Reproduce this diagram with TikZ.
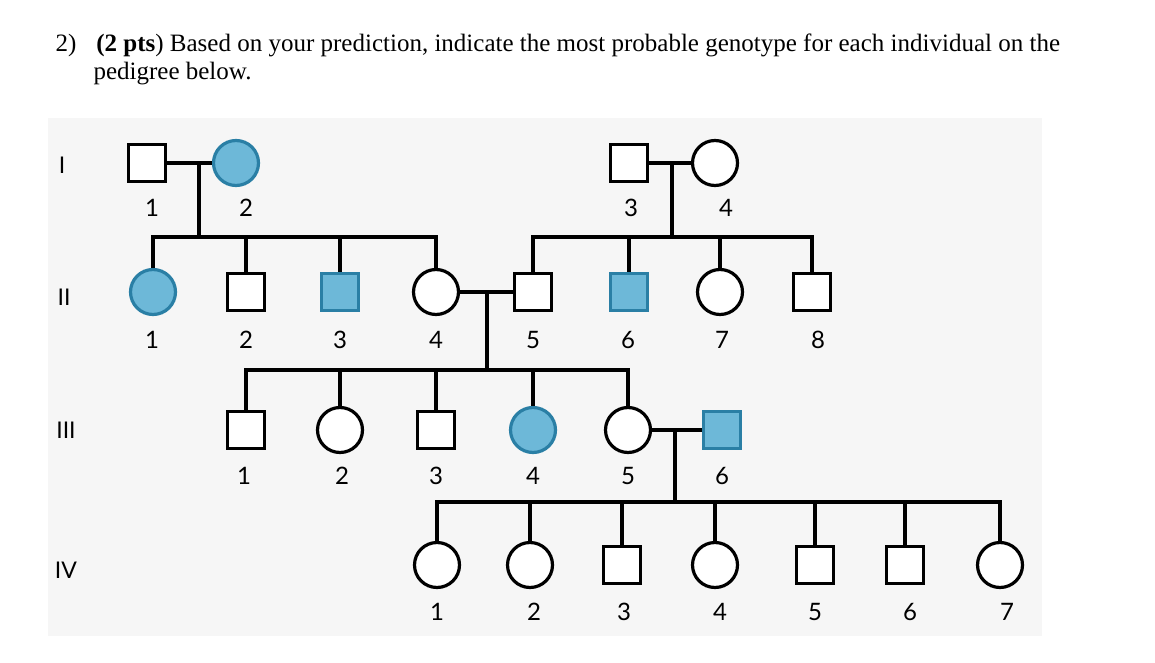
\documentclass[tikz,border=0pt]{standalone}
\usepackage{fontspec}
\setmainfont{Liberation Serif}
\newfontfamily\lab{Lato}
\begin{document}
\begin{tikzpicture}[x=1pt,y=-1pt,
  m/.style={draw=black,line width=3.2pt,minimum size=37pt,inner sep=0pt,fill=white},
  f/.style={circle,draw=black,line width=3.2pt,minimum size=45pt,inner sep=0pt,fill=white},
  aff/.style={fill=affblue,draw=affedge},
  ln/.style={line width=3.6pt},
  lb/.style={font=\lab\fontsize{24}{26}\selectfont},
  gen/.style={font=\lab\fontsize{23}{26}\selectfont}]
\definecolor{affblue}{HTML}{6DB8D8}
\definecolor{affedge}{HTML}{2A7FA5}
\useasboundingbox (0,0) rectangle (1155,663);
\fill[gray!7] (48,118) rectangle (1042,636);
\node[anchor=base west,font=\fontsize{25}{29}\selectfont] (t1) at (52,52) {2)\hspace{0.8em}\textbf{(2 pts}) Based on your prediction, indicate the most probable genotype for each individual on the};
\node[anchor=base west,font=\fontsize{25}{29}\selectfont] (t2) at (90,80) {pedigree below.};
% generation labels
\node[gen] (gI) at (62,165) {I};
\node[gen] (gII) at (64,297) {II};
\node[gen] (gIII) at (66,430) {III};
\node[gen] (gIV) at (66,570) {IV};
% Gen I
\node[m] (a1) at (147,163) {};
\node[f,aff] (a2) at (236,163) {};
\node[m] (a3) at (629,163) {};
\node[f] (a4) at (715,163) {};
\draw[ln] (a1) -- (a2); \draw[ln] (a3) -- (a4);
\coordinate (d1) at (199,163); \coordinate (d2) at (672,163);
\coordinate (s1) at (199,237); \coordinate (s2) at (672,237);
\draw[ln] (d1) -- (s1); \draw[ln] (d2) -- (s2);
% Gen II
\node[f,aff] (b1) at (153,292) {};
\node[m] (b2) at (246,292) {};
\node[m,aff] (b3) at (340,292) {};
\node[f] (b4) at (436,292) {};
\node[m] (b5) at (533,292) {};
\node[m,aff] (b6) at (629,292) {};
\node[f] (b7) at (720,292) {};
\node[m] (b8) at (812,292) {};
\draw[ln] (153,237) -- (438,237);
\draw[ln] (533,237) -- (814,237);
\foreach \n/\x in {b1/153,b2/246,b3/340,b4/436,b5/533,b6/629,b7/720,b8/812}
  \draw[ln] (\x,235.2) -- (\n.north);
\draw[ln] (b4) -- (b5);
\coordinate (d3) at (487,292); \coordinate (s3) at (487,370);
\draw[ln] (d3) -- (s3);
% Gen III
\node[m] (c1) at (246,430) {};
\node[f] (c2) at (340,430) {};
\node[m] (c3) at (436,430) {};
\node[f,aff] (c4) at (533,430) {};
\node[f] (c5) at (628,430) {};
\node[m,aff] (c6) at (722,430) {};
\draw[ln] (246,370) -- (628,370);
\foreach \n/\x in {c1/246,c2/340,c3/436,c4/533,c5/628}
  \draw[ln] (\x,368.2) -- (\n.north);
\draw[ln] (c5) -- (c6);
\coordinate (d4) at (675,430); \coordinate (s4) at (675,502);
\draw[ln] (d4) -- (s4);
% Gen IV
\node[f] (e1) at (437,565) {};
\node[f] (e2) at (530,565) {};
\node[m] (e3) at (622,565) {};
\node[f] (e4) at (715,565) {};
\node[m] (e5) at (815,565) {};
\node[m] (e6) at (905,565) {};
\node[f] (e7) at (1000,565) {};
\draw[ln] (437,502) -- (1000,502);
\foreach \n/\x in {e1/437,e2/530,e3/622,e4/715,e5/815,e6/905,e7/1000}
  \draw[ln] (\x,500.2) -- (\n.north);
% number labels
\foreach \nm/\x/\y/\t in {la1/152/208/1,la2/246/208/2,la3/631/208/3,la4/726/208/4,
  lb1/152/340/1,lb2/246/340/2,lb3/340/340/3,lb4/436/340/4,lb5/533/340/5,lb6/628/340/6,lb7/722/340/7,lb8/818/340/8,
  lc1/244/476/1,lc2/342/476/2,lc3/436/476/3,lc4/533/476/4,lc5/628/476/5,lc6/722/476/6,
  le1/437/612/1,le2/534/612/2,le3/624/612/3,le4/720/612/4,le5/815/612/5,le6/910/612/6,le7/1007/612/7}
  \node[lb] (\nm) at (\x,\y) {\t};
\end{tikzpicture}
\end{document}
